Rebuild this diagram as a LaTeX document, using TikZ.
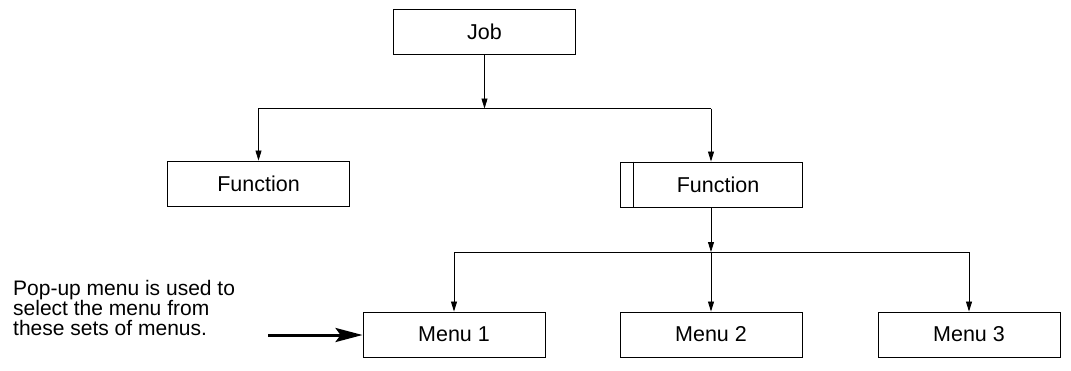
\documentclass[tikz,border=0pt]{standalone}
\usepackage{fontspec}
\setmainfont{Liberation Sans}
\usetikzlibrary{arrows.meta}
\begin{document}
\begin{tikzpicture}[x=1pt,y=-1pt,
  box/.style={draw, line width=0.9pt, minimum width=182pt, minimum height=45pt, inner sep=0pt,
    font=\fontsize{21.5}{21.5}\selectfont},
  conn/.style={line width=0.8pt},
  arr/.style={line width=0.8pt, -{Triangle[length=10pt,width=6pt]}},
  bigarr/.style={line width=3pt, -{Stealth[length=27pt,width=14pt,inset=5pt]}},
  note/.style={font=\fontsize{21}{19.5}\selectfont, align=left, inner sep=0pt, anchor=north west}]
\useasboundingbox (0,0) rectangle (1071,370);
\node[box] (job) at (484.5,31.5) {Job};
\node[box] (fl) at (258.5,183.5) {Function};
\node[box] (fr) at (711,184.5) {\hspace*{14pt}Function};
\draw[line width=0.9pt] ([xshift=14pt]fr.north west) -- ([xshift=14pt]fr.south west);
\node[box] (m1) at (454,334.5) {Menu 1};
\node[box] (m2) at (711,334.5) {Menu 2};
\node[box] (m3) at (969,334.5) {Menu 3};
\coordinate (h1) at (0,108.5);
\coordinate (h2) at (0,252);
\draw[arr] (job.south) -- (job.south |- h1);
\draw[arr] (fr.north |- h1) -| (fl.north);
\draw[arr] (fr.north |- h1) -- (fr.north);
\draw[arr] (fr.south) -- (fr.south |- h2);
\draw[arr] (m1.north |- h2) -| (m3.north);
\draw[arr] (m1.north |- h2) -- (m1.north);
\draw[arr] (fr.south |- h2) -- (m2.north);
\node[note] (pop) at (13,280) {Pop-up menu is used to\\select the menu from\\these sets of menus.};
\coordinate (ps) at (268,335);
\draw[bigarr] (ps) -- (m1.west |- ps);
\end{tikzpicture}
\end{document}
